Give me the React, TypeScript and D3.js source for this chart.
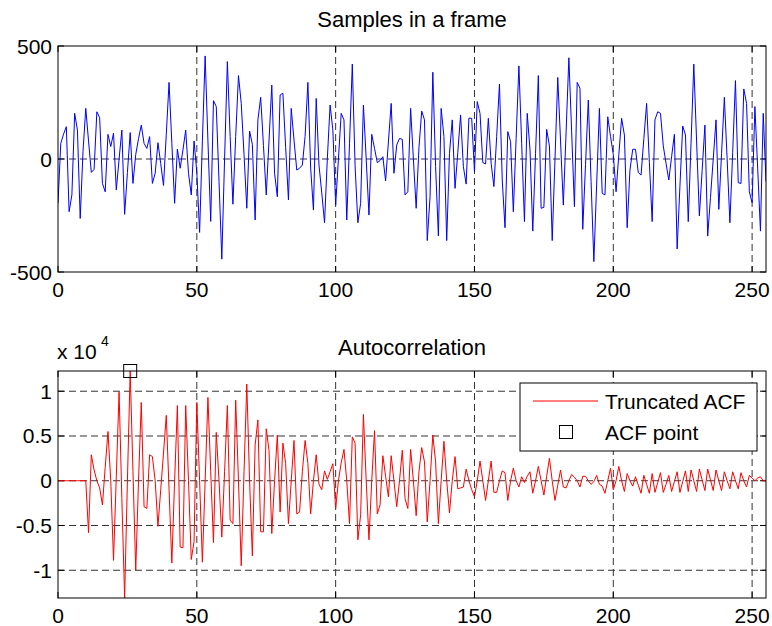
import React from "react";
import * as d3 from "d3";

// Samples in a frame (amplitude)
const samples: number[] = [
  -196, 69, 110, 143, -233, -159, 202, 128, -263, 32,
  224, 80, -59, -46, 209, 183, -108, -145, 109, 55,
  114, -137, 0, 128, -245, -60, 117, -108, 20, 90,
  150, 69, 47, 99, -108, -63, 72, -20, -117, 110,
  339, 70, -196, 44, -41, 40, 128, -63, -159, 80,
  -60, -325, 80, 456, 80, -276, 258, 232, -100, -443,
  0, 431, 100, -200, 100, 369, 246, 20, -218, 124,
  65, -270, 173, 273, 60, -159, 80, 327, -63, -167,
  283, 291, 50, -181, 224, 84, -49, -41, -27, 100,
  339, -40, -226, 268, -27, -150, -282, 0, 239, 128,
  -204, 0, 202, 173, -270, 70, 420, -30, -282, -196,
  239, 0, -248, 109, 47, -16, -7, 10, -97, 75,
  246, -63, 62, 91, 87, -159, -145, 224, 0, -218,
  50, 212, 173, -361, -167, 384, -34, -341, 224, 99,
  -361, 25, 173, -130, 30, 195, -34, -111, 181, 180,
  -56, 254, 202, -16, -22, 180, -19, -122, 100, 332,
  -93, -304, 121, 77, -233, 90, 412, 70, -277, 202,
  40, -319, 25, 369, -218, -214, 131, 58, -361, 0,
  361, 80, -204, 120, 448, 120, -211, 339, 313, -311,
  -25, 261, -100, -454, -115, 224, -152, -159, 187, 100,
  20, -145, 20, 180, 106, -304, -49, 43, 43, -60,
  -71, 90, 246, -15, -277, 173, 209, 202, 58, -20,
  -93, 10, 109, -398, -120, 146, 106, -277, 70, 420,
  80, -252, -50, 150, -341, -170, 0, 173, -223, 25,
  273, 0, -282, 30, 347, -105, -108, 310, 246, -145,
  -193, 232, -40, -319, 202, -100,
];

// Truncated autocorrelation, in units of 10^4
const acfE4: number[] = [
  0, 0, 0, 0, 0, 0, 0, 0, 0, 0,
  0, -0.58, 0.29, 0.12, 0.0, -0.08, -0.27, 0.15, 0.55, 0.0,
  -0.89, 0.05, 0.99, -0.2, -1.31, 0.0, 1.226, 0.1, -1.0, 0.0,
  0.875, -0.29, -0.31, 0.29, 0.27, 0.0, -0.51, -0.1, 0.31, 0.73,
  -0.1, -0.92, 0.0, 0.84, -0.74, -0.75, 0.84, 0.0, -0.88, -0.68,
  0.875, 0.0, -0.91, 0.0, 0.93, 0.1, -0.69, 0.54, 0.0, -0.63,
  0.1, 0.84, -0.44, -0.48, 0.9, 0.0, -0.95, 0.1, 1.08, 0.0,
  -0.84, 0.4, 0.68, -0.57, -0.57, 0.58, 0.34, -0.59, 0.0, 0.51,
  -0.35, 0.42, 0.19, -0.48, 0.0, 0.45, -0.37, -0.35, 0.1, 0.45,
  0.19, -0.37, 0.0, 0.29, -0.04, -0.1, 0.11, 0.015, 0.1, 0.19,
  -0.31, 0.0, 0.2, 0.35, 0.0, -0.48, 0.49, 0.42, -0.66, -0.38,
  0.74, 0.0, -0.66, 0.0, 0.56, -0.37, -0.27, 0.28, 0.05, -0.18,
  0.28, 0.0, -0.29, 0.0, 0.34, -0.2, -0.31, 0.35, 0.0, -0.39,
  0.1, 0.37, 0.21, -0.46, 0.0, 0.51, 0.21, -0.48, 0.0, 0.44,
  0.0, -0.36, 0.0, 0.27, -0.09, -0.08, -0.07, 0.13, 0.0, -0.1,
  -0.18, 0.0, 0.22, 0.0, -0.22, 0.0, 0.22, -0.13, -0.13, 0.0,
  0.11, 0.09, -0.22, 0.0, 0.14, 0.0, -0.07, 0.045, -0.02, 0.05,
  0.1, -0.14, 0.0, 0.16, 0.0, -0.16, 0.05, 0.25, 0.0, -0.22,
  -0.05, 0.12, -0.07, -0.08, 0.0, 0.07, 0.04, 0.0, -0.07, 0.05,
  0.05, 0.0, -0.04, -0.01, 0.06, -0.04, -0.06, -0.14, 0.0, 0.14,
  -0.1, 0.0, 0.16, 0.0, -0.12, 0.08, 0.0, -0.06, 0.045, -0.05,
  -0.14, 0.06, -0.04, -0.14, 0.08, -0.13, -0.02, 0.09, -0.13, -0.04,
  0.06, -0.12, -0.01, 0.1, -0.13, -0.01, 0.11, -0.12, 0.12, 0.0,
  -0.12, 0.13, 0.01, -0.11, 0.13, 0.01, -0.11, 0.12, 0.0, -0.11,
  0.1, 0.0, -0.09, 0.1, 0.0, -0.09, 0.09, 0.0, -0.07, 0.06,
  0.03, 0.0, 0.03, 0.045, 0.0, 0.0,
];

const xTicks = [0, 50, 100, 150, 200, 250];
const yTicksTop = [-500, 0, 500];
const yTicksBottom = [-1, -0.5, 0, 0.5, 1];
const yTickLabelsBottom = ["-1", "-0.5", "0", "0.5", "1"];
const peakLag = 26;
const legendLabels = ["Truncated ACF", "ACF point"];
const titles = ["Samples in a frame", "Autocorrelation"];

const W = 772;
const H = 626;
const L = 58;
const R = 766;
const T1 = 46;
const B1 = 272;
const T2 = 371;
const B2 = 598;
const FONT = "'Liberation Sans', Arial, Helvetica, sans-serif";
const FS = 21;
const GRID = "#333";
const DASH = "7,4";
const TICK = 6;

export default function App() {
  const x = d3.scaleLinear().domain([0, 255]).range([L, R]);
  const y1 = d3.scaleLinear().domain([-500, 500]).range([B1, T1]);
  const ext = d3.extent(acfE4) as [number, number];
  const y2 = d3.scaleLinear().domain(ext).range([B2, T2]);

  const line1 = d3
    .line<number>()
    .x((_, i) => x(i))
    .y((d) => y1(d));
  const line2 = d3
    .line<number>()
    .x((_, i) => x(i))
    .y((d) => y2(d));

  const axesFrame = (top: number, bottom: number, yScale: any, yTicks: number[], yLabels: string[], hGrid: number[]) => (
    <g>
      {xTicks
        .filter((t) => t > 0)
        .map((t) => (
          <line key={"vg" + t} x1={x(t)} x2={x(t)} y1={top} y2={bottom} stroke={GRID} strokeWidth={1} strokeDasharray={DASH} />
        ))}
      {hGrid.map((t) => (
        <line key={"hg" + t} x1={L} x2={R} y1={yScale(t)} y2={yScale(t)} stroke={GRID} strokeWidth={1} strokeDasharray={DASH} />
      ))}
      {xTicks.map((t) => (
        <g key={"xt" + t}>
          <line x1={x(t)} x2={x(t)} y1={bottom} y2={bottom - TICK} stroke="#000" />
          <line x1={x(t)} x2={x(t)} y1={top} y2={top + TICK} stroke="#000" />
          <text x={x(t)} y={bottom + 25} textAnchor="middle" fontFamily={FONT} fontSize={FS}>
            {t}
          </text>
        </g>
      ))}
      {yTicks.map((t, i) => (
        <g key={"yt" + t}>
          <line x1={L} x2={L + TICK} y1={yScale(t)} y2={yScale(t)} stroke="#000" />
          <line x1={R} x2={R - TICK} y1={yScale(t)} y2={yScale(t)} stroke="#000" />
          <text x={L - 6} y={yScale(t) + 7.5} textAnchor="end" fontFamily={FONT} fontSize={FS}>
            {yLabels[i]}
          </text>
        </g>
      ))}
    </g>
  );

  return (
    <div>
      <style>{"body{margin:0;background:#fff}"}</style>
      <svg width={W} height={H} style={{ display: "block" }}>
        <rect width={W} height={H} fill="#fff" />
        <defs>
          <clipPath id="c1">
            <rect x={L} y={T1} width={R - L} height={B1 - T1} />
          </clipPath>
          <clipPath id="c2">
            <rect x={L} y={T2 - 1} width={R - L} height={B2 - T2 + 2} />
          </clipPath>
        </defs>

        {/* Top plot */}
        <text x={(L + R) / 2} y={27} textAnchor="middle" fontFamily={FONT} fontSize={22}>
          {titles[0]}
        </text>
        {axesFrame(T1, B1, y1, yTicksTop, yTicksTop.map(String), [0])}
        <path d={line1(samples) || ""} fill="none" stroke="#0000ff" strokeWidth={1} clipPath="url(#c1)" />
        <rect x={L} y={T1} width={R - L} height={B1 - T1} fill="none" stroke="#000" strokeWidth={1} />

        {/* Bottom plot */}
        <text x={(L + R) / 2} y={355} textAnchor="middle" fontFamily={FONT} fontSize={22}>
          {titles[1]}
        </text>
        <text x={57} y={359} fontFamily={FONT} fontSize={FS}>
          x 10
        </text>
        <text x={101} y={346} fontFamily={FONT} fontSize={14}>
          4
        </text>
        {axesFrame(T2, B2, y2, yTicksBottom, yTickLabelsBottom, yTicksBottom)}
        <path d={line2(acfE4) || ""} fill="none" stroke="#ff0000" strokeWidth={1} clipPath="url(#c2)" />
        <rect x={L} y={T2} width={R - L} height={B2 - T2} fill="none" stroke="#000" strokeWidth={1} />
        <rect
          x={x(peakLag) - 6.5}
          y={y2(acfE4[peakLag]) - 6.5}
          width={13}
          height={13}
          fill="none"
          stroke="#000"
          strokeWidth={1}
        />

        {/* Legend */}
        <g>
          <rect x={520} y={383} width={237} height={68} fill="#fff" stroke="#000" strokeWidth={1} />
          <line x1={533} x2={598} y1={401} y2={401} stroke="#ff0000" strokeWidth={1} />
          <text x={605} y={409} fontFamily={FONT} fontSize={21}>
            {legendLabels[0]}
          </text>
          <rect x={559.5} y={425.5} width={13} height={13} fill="none" stroke="#000" strokeWidth={1} />
          <text x={605} y={440} fontFamily={FONT} fontSize={21}>
            {legendLabels[1]}
          </text>
        </g>
      </svg>
    </div>
  );
}
